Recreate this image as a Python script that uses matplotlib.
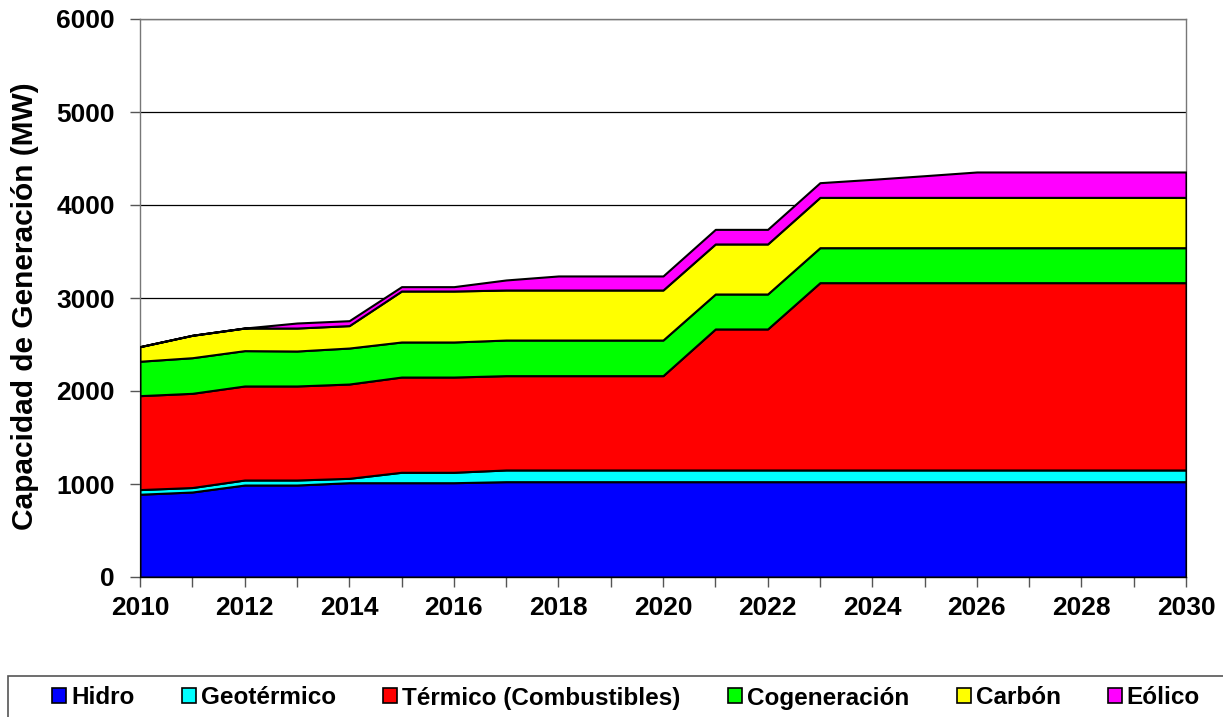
import numpy as np
import matplotlib
matplotlib.use("Agg")
from matplotlib import pyplot as plt
from matplotlib.patches import Patch, Rectangle

plt.rcParams["font.family"] = ["Liberation Sans", "DejaVu Sans"]
plt.rcParams["font.weight"] = "bold"

years = list(range(2010, 2031))

hidro = [890, 914, 989, 989, 1014, 1014, 1014, 1025, 1025, 1025, 1025,
         1025, 1025, 1025, 1025, 1025, 1025, 1025, 1025, 1025, 1025]
geotermico = [50, 48, 54, 54, 47, 112, 112, 126, 126, 126, 126,
              126, 126, 126, 126, 126, 126, 126, 126, 126, 126]
termico = [1010, 1013, 1011, 1011, 1014, 1024, 1024, 1014, 1014, 1014, 1014,
           1516, 1516, 2014, 2014, 2014, 2014, 2014, 2014, 2014, 2014]
cogeneracion = [370, 383, 380, 376, 387, 377, 377, 383, 383, 383, 383,
                376, 376, 376, 376, 376, 376, 376, 376, 376, 376]
carbon = [157, 241, 243, 247, 241, 548, 548, 538, 538, 538, 538,
          538, 538, 541, 541, 541, 541, 541, 541, 541, 541]
eolico = [0, 0, 0, 54, 53, 47, 47, 108, 151, 151, 151,
          157, 157, 158, 194, 233, 273, 273, 273, 273, 273]

labels = ["Hidro", "Geotérmico", "Térmico (Combustibles)", "Cogeneración", "Carbón", "Eólico"]
colors = ["#0000ff", "#00ffff", "#ff0000", "#00ff00", "#ffff00", "#ff00ff"]

fig = plt.figure(figsize=(12.23, 7.17), dpi=100)
ax = fig.add_axes([140 / 1223, 1 - 577 / 717, 1046 / 1223, 558 / 717])

ax.stackplot(years, hidro, geotermico, termico, cogeneracion, carbon, eolico,
             colors=colors, edgecolor="black", linewidth=1.5, zorder=3)

ax.set_xlim(2010, 2030)
ax.set_ylim(0, 6000)
ax.set_xticks(range(2010, 2031, 2))
ax.set_xticks(range(2010, 2031), minor=True)
ax.set_yticks(range(0, 6001, 1000))
ax.yaxis.grid(True, color="black", linewidth=0.9, zorder=1)
ax.set_axisbelow(True)

for s in ["top", "right", "left", "bottom"]:
    ax.spines[s].set_color("#777777")
    ax.spines[s].set_linewidth(1.0)
ax.spines["bottom"].set_color("black")

ax.tick_params(axis="both", which="both", direction="out", length=7, width=1, color="#555555")
ax.tick_params(axis="x", which="major", labelsize=19, pad=7)
ax.tick_params(axis="y", labelsize=19, pad=11)

ax.set_ylabel("Capacidad de Generación (MW)", fontsize=21.5, fontweight="bold")
ax.yaxis.set_label_coords(-0.097, 0.485)

# x label sits mostly behind the legend box, as in the original
fig.text(593 / 1223, 1 - 687 / 717, "Año", ha="center", va="center", fontsize=17.5, zorder=1)

box = Rectangle((8 / 1223, -0.05), 1.0, 0.05 + (717 - 676) / 717, transform=fig.transFigure,
                facecolor="white", edgecolor="#555555", linewidth=1.2, zorder=5)
fig.patches.append(box)

handles = [Patch(facecolor=c, edgecolor="black", linewidth=1.2) for c in colors]
leg = fig.legend(handles, labels, loc="center left", bbox_to_anchor=(52 / 1223, 1 - 698 / 717),
                 ncol=6, frameon=False, fontsize=17.5, handlelength=0.58, handleheight=0.58,
                 handletextpad=0.2, columnspacing=1.95, borderpad=0, borderaxespad=0)
leg.set_zorder(6)

fig.savefig("out.png", dpi=100)
plt.close()
